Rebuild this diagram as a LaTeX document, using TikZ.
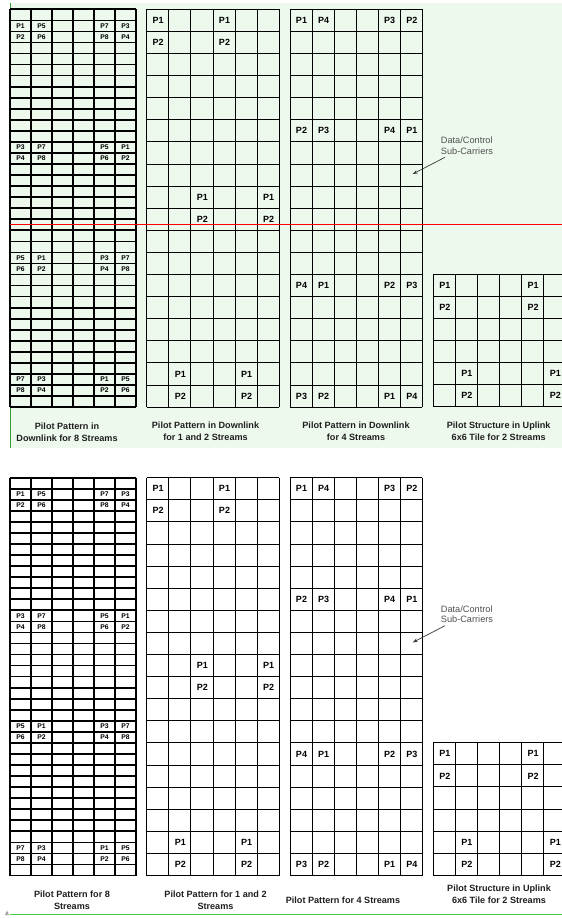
\documentclass[tikz,border=0pt]{standalone}
\usepackage{fontspec}
\setmainfont{Liberation Sans}
\usetikzlibrary{arrows.meta}
\definecolor{bgg}{HTML}{EEF9EE}
\definecolor{edgeg}{HTML}{3A9A3A}
\definecolor{lineg}{HTML}{44CC44}
\definecolor{dcgray}{HTML}{505050}
\tikzset{
  thickgrid/.style={line width=1.7pt, black},
  thingrid/.style={line width=0.9pt, black},
  plab/.style={font=\bfseries\fontsize{9}{9}\selectfont, inner sep=0pt},
  slab/.style={font=\bfseries\fontsize{6.8}{6.8}\selectfont, inner sep=0pt},
  capt/.style={font=\bfseries\fontsize{9.1}{12.3}\selectfont, align=center, inner sep=0pt, text=black!88},
  dctext/.style={font=\fontsize{9.2}{10.6}\selectfont, align=left, inner sep=0pt, text=dcgray, anchor=north west},
}
% x0, y0, cell w, cell h, cols, rows
\newcommand\gridbox[6]{%
  \foreach \i in {0,...,#5} \draw (#1+\i*#3, #2) -- (#1+\i*#3, #2+#6*#4);
  \foreach \j in {0,...,#6} \draw (#1, #2+\j*#4) -- (#1+#5*#3, #2+\j*#4);
}
\newcommand\halfpic[1]{%
  \begin{scope}[thickgrid]\gridbox{10}{9.3}{21}{11.05}{6}{36}\end{scope}
  \begin{scope}[thingrid]
    \gridbox{146.7}{9.3}{22.1}{22.1}{6}{18}
    \gridbox{290}{9.3}{22.05}{22.1}{6}{18}
    \gridbox{433.3}{274.3}{22.1}{22.1}{6}{6}
  \end{scope}
  \foreach \r/\c/\t in {1/0/P1,1/1/P5,1/4/P7,1/5/P3,2/0/P2,2/1/P6,2/4/P8,2/5/P4,
      12/0/P3,12/1/P7,12/4/P5,12/5/P1,13/0/P4,13/1/P8,13/4/P6,13/5/P2,
      22/0/P5,22/1/P1,22/4/P3,22/5/P7,23/0/P6,23/1/P2,23/4/P4,23/5/P8,
      33/0/P7,33/1/P3,33/4/P1,33/5/P5,34/0/P8,34/1/P4,34/4/P2,34/5/P6}
    \node[slab] (#1a\r-\c) at (10+\c*21+10.5, 9.3+\r*11.05+5.6) {\t};
  \foreach \r/\c/\t in {0/0/P1,0/3/P1,1/0/P2,1/3/P2,8/2/P1,8/5/P1,9/2/P2,9/5/P2,
      16/1/P1,16/4/P1,17/1/P2,17/4/P2}
    \node[plab] (#1b\r-\c) at (146.7+\c*22.1+11.5, 9.3+\r*22.1+11.05) {\t};
  \foreach \r/\c/\t in {0/0/P1,0/1/P4,0/4/P3,0/5/P2,5/0/P2,5/1/P3,5/4/P4,5/5/P1,
      12/0/P4,12/1/P1,12/4/P2,12/5/P3,17/0/P3,17/1/P2,17/4/P1,17/5/P4}
    \node[plab] (#1c\r-\c) at (290+\c*22.05+11.5, 9.3+\r*22.1+11.05) {\t};
  \foreach \r/\c/\t in {0/0/P1,0/4/P1,1/0/P2,1/4/P2,4/1/P1,4/5/P1,5/1/P2,5/5/P2}
    \node[plab] (#1d\r-\c) at (433.3+\c*22.1+11.5, 274.3+\r*22.1+11.05) {\t};
  \node[dctext] (#1dc) at (440.7,137) {Data/Control\\Sub-Carriers};
  \coordinate (#1dcs) at (445,157.3);
  \coordinate (#1dce) at (412.7,174);
  \draw[dcgray!70!black, line width=0.7pt, -{Stealth[length=5pt,width=3.5pt]}] (#1dcs) -- (#1dce);
}
\begin{document}
\begin{tikzpicture}[x=1pt,y=-1pt]
  \path[use as bounding box, clip] (0,0) rectangle (562,918);
  \fill[white] (0,0) rectangle (562,918);
  % top panel background
  \fill[bgg] (10,3) rectangle (562,448);
  \draw[edgeg, line width=1pt] (10,3) -- (10,448);
  \halfpic{t}
  \draw[red, line width=1.1pt] (10,224.5) -- (562,224.5);
  \node[capt] (tc1) at (67,432.5) {Pilot Pattern in\\Downlink for 8 Streams};
  \node[capt] (tc2) at (205.5,431) {Pilot Pattern in Downlink\\for 1 and 2 Streams};
  \node[capt] (tc3) at (356,431) {Pilot Pattern in Downlink\\for 4 Streams};
  \node[capt] (tc4) at (498.7,431) {Pilot Structure in Uplink\\6x6 Tile for 2 Streams};
  % bottom panel
  \begin{scope}[yshift=-468.4pt]
    \halfpic{b}
  \end{scope}
  \node[capt] (bc1) at (72,900.5) {Pilot Pattern for 8\\Streams};
  \node[capt] (bc2) at (215.5,900.5) {Pilot Pattern for 1 and 2\\Streams};
  \node[capt] (bc3) at (343,900) {Pilot Pattern for 4 Streams};
  \node[capt] (bc4) at (499,894) {Pilot Structure in Uplink\\6x6 Tile for 2 Streams};
  \draw[lineg, line width=1.2pt] (10,914.5) -- (562,914.5);
  \fill[gray!70] (5,915) -- (9,915) -- (7,910.5) -- cycle;
\end{tikzpicture}
\end{document}
